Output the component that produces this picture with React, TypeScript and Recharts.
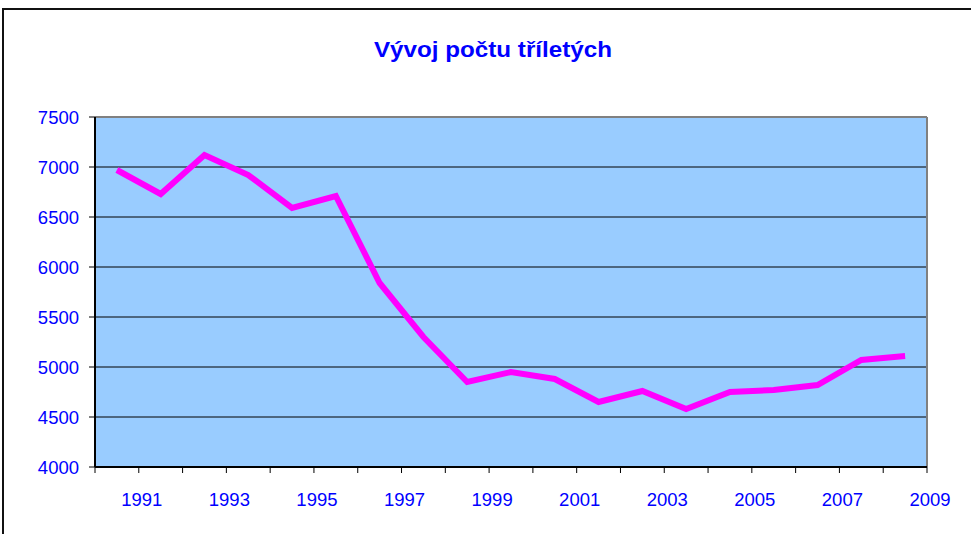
import React from "react";
import {
  LineChart, Line, XAxis, YAxis, CartesianGrid, ReferenceLine,
} from "recharts";

// school years starting 1990 .. 2008, plotted in the middle of each year band
const years = [1990, 1991, 1992, 1993, 1994, 1995, 1996, 1997, 1998, 1999, 2000, 2001, 2002, 2003, 2004, 2005, 2006, 2007, 2008];
const counts = [6970, 6730, 7120, 6920, 6590, 6710, 5840, 5300, 4850, 4950, 4880, 4650, 4760, 4580, 4750, 4770, 4820, 5070, 5110];

const yTicks = [4000, 4500, 5000, 5500, 6000, 6500, 7000, 7500];
const xTicks = [1990, 1991, 1992, 1993, 1994, 1995, 1996, 1997, 1998, 1999, 2000, 2001, 2002, 2003, 2004, 2005, 2006, 2007, 2008, 2009];
const labeledYears = [1991, 1993, 1995, 1997, 1999, 2001, 2003, 2005, 2007, 2009];

const data = years.map((y, i) => ({ x: y + 0.5, value: counts[i] }));

const FONT = "'Liberation Sans', Arial, sans-serif";
const BLUE = "#0000FF";

function YearTick(props: any) {
  const { x, y, payload } = props;
  if (!labeledYears.includes(payload.value)) return null;
  return (
    <text x={x + 3} y={y} dy="0.71em" textAnchor="middle" fill={BLUE} fontSize={18.5} fontFamily={FONT}>
      {payload.value}
    </text>
  );
}

export default function App() {
  return (
    <div style={{ position: "absolute", left: 0, top: 0, width: 971, height: 534, overflow: "hidden", background: "#fff" }}>
      <div style={{ position: "absolute", left: 2, top: 8, width: 1100, height: 700, border: "2px solid #111" }} />
      <div
        style={{
          position: "absolute", left: 0, width: 986, top: 37, textAlign: "center",
          fontFamily: FONT, fontWeight: "bold", fontSize: 22, color: BLUE,
          transform: "scaleX(1.1)", transformOrigin: "493px 0",
        }}
      >
        Vývoj počtu tříletých
      </div>
      <div style={{ position: "absolute", left: 0, top: 0 }}>
        <LineChart width={971} height={534} data={data} margin={{ top: 117, right: 44, left: 0, bottom: 0 }}>
          <CartesianGrid vertical={false} horizontal stroke="#000" fill="#99CCFF" fillOpacity={1} />
          <ReferenceLine y={7500} stroke="#808080" strokeWidth={2} />
          <ReferenceLine x={2009} stroke="#808080" strokeWidth={2} />
          <XAxis
            type="number"
            dataKey="x"
            domain={[1990, 2009]}
            ticks={xTicks}
            interval={0}
            height={67}
            tickSize={6}
            tickMargin={20}
            tick={<YearTick />}
            axisLine={{ stroke: "#000", strokeWidth: 2 }}
            tickLine={{ stroke: "#000" }}
          />
          <YAxis
            domain={[4000, 7500]}
            ticks={yTicks}
            interval={0}
            width={95}
            tickSize={6}
            tickMargin={10}
            tick={{ fill: BLUE, fontSize: 18.5, fontFamily: FONT }}
            axisLine={{ stroke: "#000", strokeWidth: 2 }}
            tickLine={{ stroke: "#000" }}
          />
          <Line
            type="linear"
            dataKey="value"
            stroke="#FF00FF"
            strokeWidth={6}
            dot={false}
            isAnimationActive={false}
          />
        </LineChart>
      </div>
    </div>
  );
}
